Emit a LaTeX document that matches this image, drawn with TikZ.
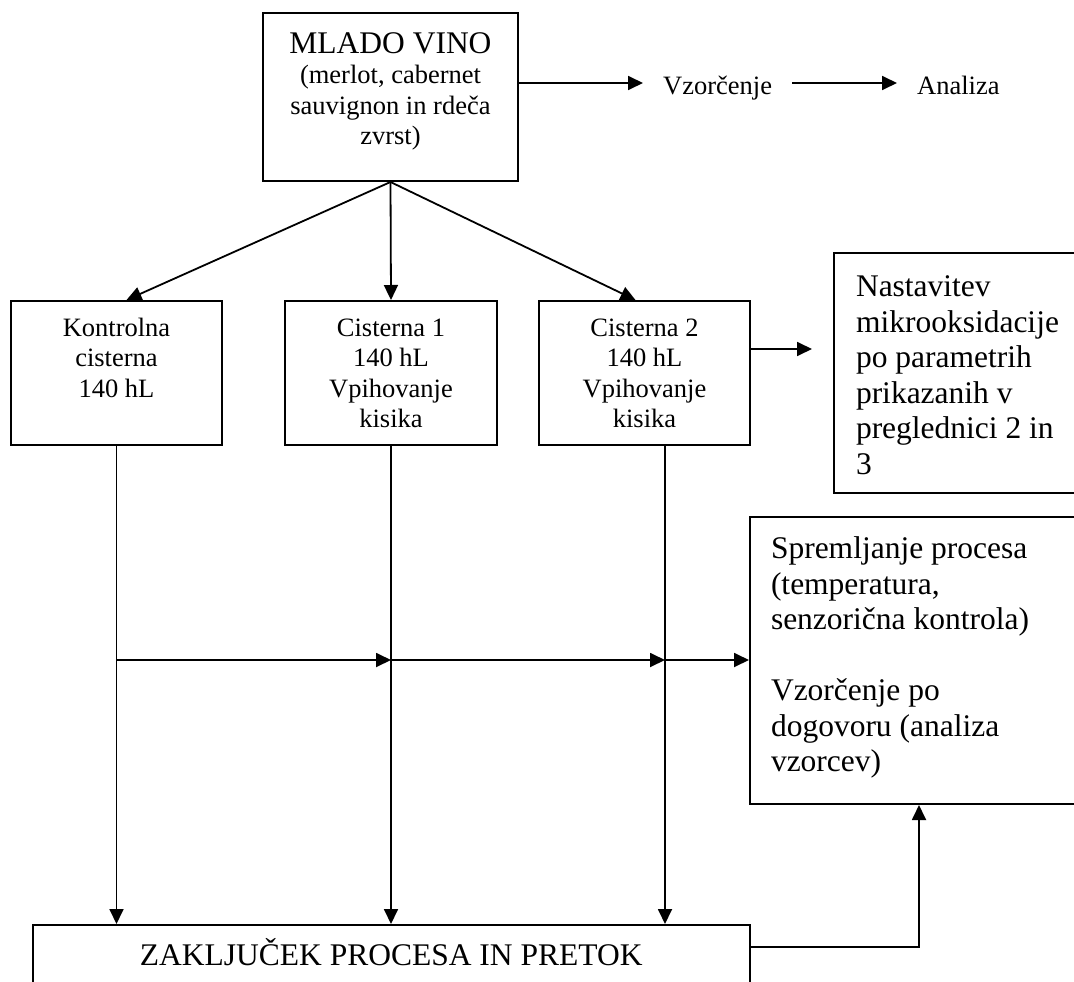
\documentclass[tikz,border=0pt]{standalone}
\usepackage{fontspec}
\setmainfont{Liberation Serif}
\usetikzlibrary{arrows.meta}

\newcommand{\normtxt}{\fontsize{26.5}{30.5}\selectfont}
\newcommand{\bigtxt}{\fontsize{31.5}{35.5}\selectfont}

\begin{document}
\begin{tikzpicture}[x=1pt,y=-1pt,
  box/.style={draw,line width=2pt,inner sep=0pt,anchor=north west},
  arr/.style={-{Triangle[length=15pt,width=14pt]},line width=1.8pt},
  lbl/.style={font=\normtxt,inner xsep=20pt,inner ysep=0pt,text height=24pt,text depth=0pt,anchor=west}]
\useasboundingbox (0,0) rectangle (1074,982);
\clip (0,0) rectangle (1074,982);
\node[box] (mlado) at (262,12) {\parbox[c][168pt][t]{255pt}{\normtxt\centering\rule{0pt}{40pt}{\bigtxt MLADO VINO}\\(merlot, cabernet\\sauvignon in rdeča\\zvrst)}};
\node[lbl] (vz) at (643,83) {Vzorčenje};
\node[lbl] (an) at (897,83) {Analiza};
\node[box] (kon) at (10,300) {\parbox[c][144pt][t]{211pt}{\normtxt\centering\rule{0pt}{35pt}Kontrolna\\cisterna\\140 hL}};
\node[box] (cis1) at (284,300) {\parbox[c][144pt][t]{212pt}{\normtxt\centering\rule{0pt}{35pt}Cisterna 1\\140 hL\\Vpihovanje\\kisika}};
\node[box] (cis2) at (538,300) {\parbox[c][144pt][t]{211pt}{\normtxt\centering\rule{0pt}{35pt}Cisterna 2\\140 hL\\Vpihovanje\\kisika}};
\node[box] (nast) at (833,252) {\parbox[c][240pt][t]{254pt}{\bigtxt\raggedright\leftskip=22pt\rule{0pt}{43.5pt}Nastavitev\\mikrooksidacije\\po parametrih\\prikazanih v\\preglednici 2 in\\3}};
\node[box] (sprem) at (749,516) {\parbox[c][287pt][t]{338pt}{\bigtxt\raggedright\leftskip=21pt\rule{0pt}{41.5pt}Spremljanje procesa\\(temperatura,\\senzorična kontrola)\\[35.5pt]Vzorčenje po\\dogovoru (analiza\\vzorcev)}};
\node[box] (fin) at (31.5,924) {\parbox[c][90pt][t]{717.5pt}{\bigtxt\centering\rule{0pt}{40pt}ZAKLJUČEK PROCESA IN PRETOK}};
% top row
\draw[arr] (mlado.east |- vz.west) -- (vz.west);
\draw[arr] (vz.east) -- (an.west);
\draw[arr] (mlado.south) -- ([xshift=10]kon.north);
\draw[arr] (mlado.south) -- (cis1.north);
\draw[arr] (mlado.south) -- ([xshift=-9]cis2.north);
\draw[arr,shorten >=21pt] ([yshift=24]cis2.east) -- ([yshift=24]cis2.east -| nast.west);
% down to the end
\coordinate (cis2out) at ([xshift=20.5]cis2.south);
\coordinate (mid) at (0,660);
\draw[arr] (kon.south) -- (kon.south |- fin.north);
\draw[arr] (cis1.south) -- (cis1.south |- fin.north);
\draw[arr] (cis2out) -- (cis2out |- fin.north);
\draw[arr] (kon.south |- mid) -- (cis1.south |- mid);
\draw[arr] (cis1.south |- mid) -- (cis2out |- mid);
\draw[arr] (cis2out |- mid) -- (sprem.west |- mid);
\draw[arr] ([yshift=-23]fin.north east) -| (sprem.south);
\end{tikzpicture}
\end{document}
